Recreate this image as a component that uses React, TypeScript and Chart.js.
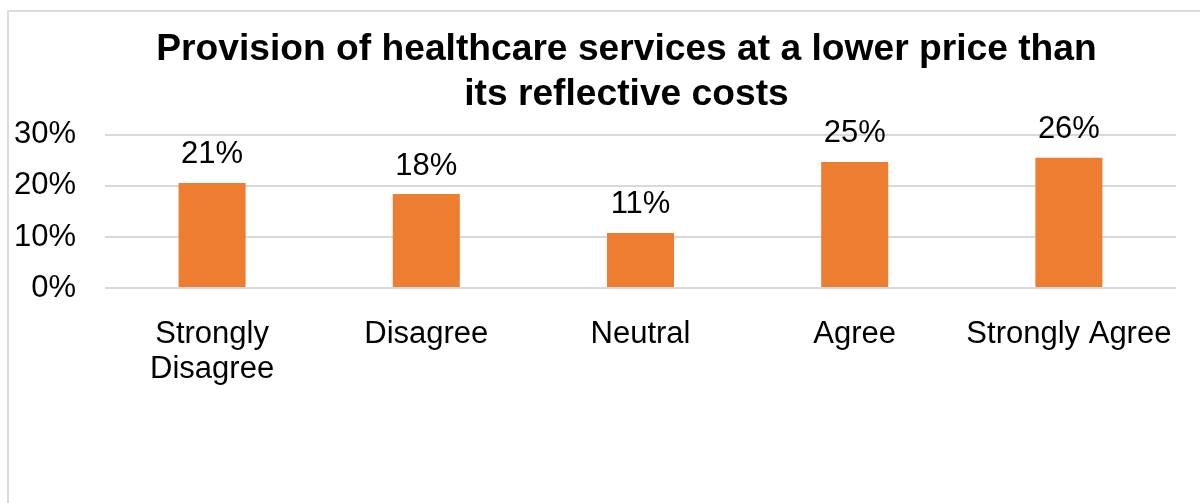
import React, { useEffect, useRef } from "react";
import { Chart, registerables } from "chart.js";

Chart.register(...registerables);

const categories: (string | string[])[] = [
  ["Strongly", "Disagree"],
  "Disagree",
  "Neutral",
  "Agree",
  "Strongly Agree",
];
const values: number[] = [20.6, 18.4, 10.8, 24.7, 25.5];
const yTicks: number[] = [0, 10, 20, 30];
const titleLines: string[] = [
  "Provision of healthcare services at a lower price than",
  "its reflective costs",
];

const FONT = "'Liberation Sans', Arial, sans-serif";

const dataLabels = {
  id: "dataLabels",
  afterDatasetsDraw(chart: any) {
    const ctx = chart.ctx;
    const meta = chart.getDatasetMeta(0);
    ctx.save();
    ctx.font = `31px ${FONT}`;
    ctx.fillStyle = "#000000";
    ctx.textAlign = "center";
    ctx.textBaseline = "alphabetic";
    meta.data.forEach((bar: any, i: number) => {
      const v = chart.data.datasets[0].data[i] as number;
      ctx.fillText(`${Math.round(v)}%`, bar.x, bar.y - 19.5);
    });
    ctx.restore();
  },
};

export default function App() {
  const ref = useRef<HTMLCanvasElement | null>(null);
  useEffect(() => {
    if (!ref.current) return;
    const chart = new Chart(ref.current, {
      type: "bar",
      data: {
        labels: categories,
        datasets: [
          {
            data: values,
            backgroundColor: "#ED7D31",
            borderWidth: 0,
            categoryPercentage: 1,
            barPercentage: 0.313,
          },
        ],
      },
      options: {
        animation: false,
        responsive: false,
        maintainAspectRatio: false,
        layout: { padding: 0 },
        plugins: {
          legend: { display: false },
          tooltip: { enabled: false },
          title: {
            display: true,
            text: titleLines,
            color: "#000000",
            font: { family: FONT, size: 37.2, weight: "bold", lineHeight: 1.195 },
            padding: { top: 28, bottom: 18 },
          },
        },
        scales: {
          x: {
            grid: { display: false },
            border: { display: false },
            ticks: {
              color: "#000000",
              font: { family: FONT, size: 31, lineHeight: 1.16 },
              padding: 20,
              maxRotation: 0,
              autoSkip: false,
            },
            afterFit(scale: any) {
              scale.height = 215;
            },
          },
          y: {
            min: 0,
            max: 30,
            border: { display: false },
            grid: { color: "#d9d9d9", lineWidth: 2, drawTicks: false },
            afterBuildTicks(scale: any) {
              scale.ticks = yTicks.map((v) => ({ value: v }));
            },
            ticks: {
              color: "#000000",
              font: { family: FONT, size: 31 },
              padding: 29,
              callback: (v: any) => `${v}%`,
            },
            afterFit(scale: any) {
              scale.width = 105;
            },
          },
          yRight: {
            position: "right",
            min: 0,
            max: 30,
            grid: { display: false },
            border: { display: false },
            ticks: { display: false },
            afterFit(scale: any) {
              scale.width = 77;
            },
          },
        },
      },
      plugins: [dataLabels],
    });
    return () => chart.destroy();
  }, []);

  return (
    <div
      style={{
        position: "fixed",
        left: 0,
        top: 0,
        width: 1200,
        height: 503,
        overflow: "hidden",
        background: "#ffffff",
      }}
    >
      <div
        style={{
          position: "absolute",
          left: 7,
          top: 10,
          width: 1300,
          height: 600,
          border: "2px solid #dcdcdc",
          boxSizing: "border-box",
        }}
      />
      <canvas
        ref={ref}
        width={1253}
        height={503}
        style={{ position: "absolute", left: 0, top: 0, width: 1253, height: 503 }}
      />
    </div>
  );
}
